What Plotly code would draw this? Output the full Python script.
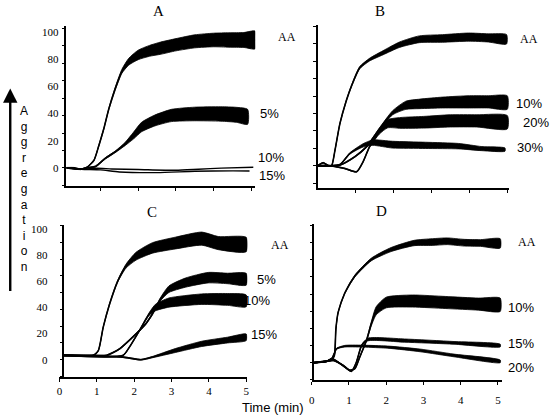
import plotly.graph_objects as go

W, H = 550, 416

# ---------------- data ----------------
# Panel A
A_AA_t = [0.10, 0.3, 0.48, 0.65, 0.83, 0.96, 1.09, 1.22, 1.39, 1.57, 1.75, 2.0, 2.3, 2.6, 3.0, 3.5, 4.0, 4.4, 4.8, 5.1]
A_AA_y = [0, 0, -1, 0.5, 5.6, 16.5, 28.7, 43, 58, 71, 78, 83, 86, 88, 90.5, 93, 94, 94, 94, 94]
A_AA_w = [0.3, 0.3, 0.3, 0.3, 0.3, 0.4, 0.5, 0.6, 1, 1.5, 2.5, 3.5, 4, 4.5, 4.5, 4.8, 5, 5.3, 5.5, 6.5]
A_5_t = [0.10, 0.48, 0.7, 0.87, 1.13, 1.39, 1.66, 1.88, 2.09, 2.44, 2.88, 3.49, 4.19, 4.6, 4.9]
A_5_y = [0, -1, 0.3, 1, 7, 11.7, 17.7, 23.8, 30, 34.8, 38.5, 39.6, 39.6, 39, 37.5]
A_5_w = [0.3, 0.3, 0.3, 0.4, 0.5, 0.6, 1.2, 2.5, 3.5, 4, 4.5, 5, 5.3, 5.5, 5.5]
A_10_t = [0.10, 0.5, 0.9, 1.3, 2.0, 3.0, 3.6, 4.2, 5.05]
A_10_y = [0, -1, -0.3, -0.8, -1.2, -1.8, -1, -0.2, 0.4]
A_15_t = [0.10, 0.5, 1.0, 1.5, 2.5, 3.5, 4.5, 4.95]
A_15_y = [0, -1, -1.5, -3, -3.5, -2.5, -2.2, -2.3]

# Panel B
B_AA_t = [0, 0.15, 0.29, 0.37, 0.46, 0.59, 0.76, 0.9, 1.11, 1.37, 1.72, 2.16, 2.68, 3.29, 3.98, 4.5, 4.98]
B_AA_y = [0, 2.2, 0, 0, 11.4, 31, 48, 59, 72, 78, 83, 89, 93, 93.6, 94.6, 94, 93]
B_AA_w = [0.3, 0.3, 0.3, 0.3, 0.3, 0.4, 0.5, 0.6, 0.8, 1, 1.5, 2, 2.5, 2.8, 3, 3, 3.5]
B_10_t = [0, 0.3, 0.59, 0.98, 1.29, 1.63, 1.98, 2.33, 2.7, 3.3, 4.0, 4.5, 5.0]
B_10_y = [0, 0, 0.5, 6.6, 13.9, 27, 39, 44.5, 45.5, 46.5, 47, 47, 46.5]
B_10_w = [0.3, 0.3, 0.3, 0.4, 0.5, 0.8, 1.5, 3, 3.5, 4, 4.5, 4.5, 5]
B_20_t = [0, 0.33, 0.72, 1.03, 1.2, 1.37, 1.63, 1.85, 2.2, 2.8, 3.5, 4.2, 5.0]
B_20_y = [0, 0, -2, -4.4, 2.9, 13.9, 24.8, 30.9, 31.5, 32, 33, 33, 32]
B_20_w = [0.3, 0.3, 0.3, 0.3, 0.4, 0.5, 1.5, 3, 4, 4.3, 4.5, 4.5, 5]
B_30_t = [0, 0.4, 0.6, 0.85, 1.2, 1.46, 1.98, 2.85, 3.72, 4.33, 4.94]
B_30_y = [0, 0, 1, 9, 15, 17, 15.5, 15, 14.4, 12.6, 11.9]
B_30_w = [0.3, 0.3, 0.3, 0.5, 1.2, 2, 2.5, 2.3, 2, 1.5, 1.2]

# Panel C
C_AA_t = [0.1, 0.29, 0.9, 1.04, 1.17, 1.34, 1.56, 1.78, 2.05, 2.49, 3.1, 3.81, 4.25, 5.0]
C_AA_y = [3.3, 3.3, 3.3, 7, 24.7, 42.4, 60, 71.4, 79, 85.3, 89, 92.4, 89, 87.9]
C_AA_w = [0.3, 0.3, 0.3, 0.3, 0.4, 0.5, 0.7, 1.5, 3, 4, 4.5, 5, 5, 5.5]
C_5_t = [0.1, 0.9, 1.26, 1.61, 2.05, 2.3, 2.49, 2.7, 2.93, 3.37, 3.98, 4.5, 5.0]
C_5_y = [3.3, 3.3, 3.3, 8.3, 19.7, 27, 35, 46, 53.8, 58.8, 62.6, 62, 61.4]
C_5_w = [0.3, 0.3, 0.3, 0.4, 0.5, 0.6, 0.7, 1.2, 2.5, 3.5, 4, 4, 4.5]
C_10_t = [0.1, 1.7, 1.87, 2.14, 2.4, 2.57, 2.93, 3.81, 4.5, 5.0]
C_10_y = [3.3, 3.3, 9.5, 22.2, 34.8, 39.8, 43.6, 46.2, 46, 44.9]
C_10_w = [0.3, 0.3, 0.3, 0.5, 1, 2.5, 3.5, 4, 4.5, 4.5]
C_15_t = [0.1, 1.7, 2.18, 2.49, 3.1, 3.81, 4.5, 5.0]
C_15_y = [3.3, 2, 0, 2, 7, 12.1, 15, 17.1]
C_15_w = [0.3, 0.3, 0.3, 0.5, 1.5, 2, 2.2, 2.5]

# Panel D
D_AA_t = [0.05, 0.4, 0.54, 0.61, 0.65, 0.71, 0.89, 1.16, 1.6, 2.13, 2.75, 3.24, 3.64, 4.1, 4.53, 5.06]
D_AA_y = [0, 1.2, 2.2, 5.4, 25, 37.5, 52, 64.7, 77, 84.4, 89.3, 90, 90.6, 89.5, 89.3, 89]
D_AA_w = [0.3, 0.3, 0.3, 0.3, 0.3, 0.4, 0.5, 0.7, 1, 1.5, 2, 2.5, 2.5, 2.5, 2.5, 3.5]
D_10_t = [0.05, 0.4, 0.58, 0.85, 1.02, 1.16, 1.29, 1.47, 1.6, 1.73, 2.0, 2.71, 3.6, 4.48, 5.06]
D_10_y = [0, 1, 1.7, -2, -5.7, -4.4, 4.2, 16.5, 29, 38.7, 44.9, 46, 44.9, 43.7, 43.2]
D_10_w = [0.3, 0.3, 0.3, 0.3, 0.3, 0.3, 0.4, 0.6, 1.5, 3, 4, 4.5, 4.5, 4.5, 5]
D_15_t = [0.05, 0.4, 0.54, 0.71, 0.89, 1.07, 1.2, 1.34, 1.51, 2.49, 3.82, 5.06]
D_15_y = [0, 1, 3, 0.4, -3.3, -6.4, 0.4, 12.8, 17.3, 16.5, 14.8, 12.8]
D_15_w = [0.3, 0.3, 0.3, 0.3, 0.3, 0.3, 0.3, 0.5, 1, 1.2, 1, 1]
D_20_t = [0.05, 0.4, 0.54, 0.67, 0.89, 2.04, 2.93, 3.82, 5.06]
D_20_y = [0, 1, 3, 10.4, 12.3, 11.6, 9.1, 5.4, 1]
D_20_w = [0.3, 0.3, 0.3, 0.3, 0.6, 0.8, 1, 1, 1]

Y_TICKS = [0, 20, 40, 60, 80, 100]
X_TICKS = [0, 1, 2, 3, 4, 5]

SERIF = "Liberation Serif"
SANS = "Liberation Sans"


def px(x):
    return x / W


def py(y):
    return 1 - y / H


fig = go.Figure()


def add_curve(t, y, w, xa, ya, lw=1.6):
    if w is not None:
        up = [a + b for a, b in zip(y, w)]
        lo = [a - b for a, b in zip(y, w)]
        fig.add_trace(go.Scatter(
            x=list(t) + list(t[::-1]), y=up + lo[::-1], xaxis=xa, yaxis=ya,
            mode="lines", fill="toself", fillcolor="black",
            line=dict(color="black", width=0.8, shape="spline", smoothing=0.6),
            hoverinfo="skip", showlegend=False))
    fig.add_trace(go.Scatter(
        x=t, y=y, xaxis=xa, yaxis=ya, mode="lines",
        line=dict(color="black", width=lw, shape="spline", smoothing=0.6),
        showlegend=False))


add_curve(A_AA_t, A_AA_y, A_AA_w, "x", "y")
add_curve(A_5_t, A_5_y, A_5_w, "x", "y")
add_curve(A_10_t, A_10_y, None, "x", "y", lw=1.4)
add_curve(A_15_t, A_15_y, None, "x", "y", lw=1.4)

add_curve(B_AA_t, B_AA_y, B_AA_w, "x2", "y2")
add_curve(B_10_t, B_10_y, B_10_w, "x2", "y2")
add_curve(B_20_t, B_20_y, B_20_w, "x2", "y2")
add_curve(B_30_t, B_30_y, B_30_w, "x2", "y2")

add_curve(C_AA_t, C_AA_y, C_AA_w, "x3", "y3")
add_curve(C_5_t, C_5_y, C_5_w, "x3", "y3")
add_curve(C_10_t, C_10_y, C_10_w, "x3", "y3")
add_curve(C_15_t, C_15_y, C_15_w, "x3", "y3")

add_curve(D_AA_t, D_AA_y, D_AA_w, "x4", "y4")
add_curve(D_10_t, D_10_y, D_10_w, "x4", "y4")
add_curve(D_15_t, D_15_y, D_15_w, "x4", "y4")
add_curve(D_20_t, D_20_y, D_20_w, "x4", "y4")

axis_common = dict(showline=True, linecolor="black", linewidth=1.6,
                   showgrid=False, zeroline=False, fixedrange=True)
minor_y = dict(dtick=12.8, tick0=0, ticks="outside", ticklen=3,
               tickcolor="black", tickwidth=1.2, showgrid=False)
tickfont = dict(family=SERIF, size=11, color="black")

layout_axes = dict(
    # Panel A
    xaxis=dict(domain=[px(64), px(254.5)], range=[0.10, 5.10], anchor="y",
               tickvals=X_TICKS[1:], showticklabels=False, ticks="outside",
               ticklen=4, tickcolor="black", **axis_common),
    yaxis=dict(domain=[py(184), py(23)], range=[-13.1, 104.4], anchor="x",
               tickvals=Y_TICKS, ticks="", tickfont=tickfont,
               ticklabelstandoff=4, minor=minor_y, **axis_common),
    # Panel B
    xaxis2=dict(domain=[px(317.4), px(510.8)], range=[0, 5.05], anchor="y2",
                tickvals=X_TICKS[1:], showticklabels=False, ticks="outside",
                ticklen=4, tickcolor="black", **axis_common),
    yaxis2=dict(domain=[py(186), py(22.3)], range=[-16.1, 103.4], anchor="x2",
                tickvals=Y_TICKS, showticklabels=False, ticks="",
                minor=minor_y, **axis_common),
    # Panel C
    xaxis3=dict(domain=[px(57), px(246.6)], range=[0, 5.03], anchor="y3",
                tickvals=X_TICKS, ticks="outside", ticklen=3, tickcolor="black",
                tickfont=tickfont, ticklabelstandoff=0, **axis_common),
    yaxis3=dict(domain=[py(377), py(224)], range=[-13.4, 102.5], anchor="free",
                position=px(61), tickvals=Y_TICKS, ticks="", tickfont=tickfont,
                ticklabelstandoff=13, minor=minor_y, **axis_common),
    # Panel D
    xaxis4=dict(domain=[px(311.5), px(503.3)], range=[0, 5.1], anchor="y4",
                tickvals=X_TICKS, ticks="outside", ticklen=3, tickcolor="black",
                tickfont=tickfont, ticklabelstandoff=6, **axis_common),
    yaxis4=dict(domain=[py(380), py(222.7)], range=[-13.1, 103.4], anchor="free",
                position=px(313.3), tickvals=Y_TICKS, showticklabels=False,
                ticks="", minor=minor_y, **axis_common),
)

annotations = []


def label(text, x, y, family, size):
    annotations.append(dict(text=text, x=px(x), y=py(y), xref="paper", yref="paper",
                            showarrow=False, xanchor="center", yanchor="middle",
                            font=dict(family=family, size=size, color="black")))


# panel titles
label("A", 157, 8, SERIF, 15)
label("B", 380, 8, SERIF, 15)
label("C", 150, 211, SERIF, 15)
label("D", 382, 210, SERIF, 15)

# curve labels
label("AA", 287, 34, SERIF, 12)
label("5%", 269, 111, SANS, 13)
label("10%", 270, 156, SANS, 13)
label("15%", 271, 174, SANS, 13)

label("AA", 531, 36, SERIF, 12)
label("10%", 531, 101, SANS, 13)
label("20%", 538, 120, SANS, 13)
label("30%", 532, 146, SANS, 13)

label("AA", 280, 244, SERIF, 12)
label("5%", 266, 279, SANS, 13)
label("10%", 256, 300, SANS, 13)
label("15%", 263, 334, SANS, 13)

label("AA", 529, 241, SERIF, 12)
label("10%", 523, 307, SANS, 13)
label("15%", 523, 343, SANS, 13)
label("20%", 523, 367, SANS, 13)

# axis titles
label("Time (min)", 272, 407, SANS, 13)
label("<br>".join(list("Aggregation")), 21, 187, SANS, 12)

# vertical arrow
annotations.append(dict(x=px(7.3), y=py(86), ax=0, ay=204,
                        xref="paper", yref="paper", axref="pixel", ayref="pixel",
                        text="", showarrow=True, arrowhead=2, arrowsize=1.2,
                        arrowwidth=2.4, arrowcolor="black"))

fig.update_layout(
    width=W, height=H, margin=dict(l=0, r=0, t=0, b=0),
    paper_bgcolor="white", plot_bgcolor="white",
    showlegend=False, annotations=annotations, **layout_axes)

fig.write_html("out.html", config={"displayModeBar": False},
               post_script="document.body.style.margin='0';document.body.style.overflow='hidden';")
